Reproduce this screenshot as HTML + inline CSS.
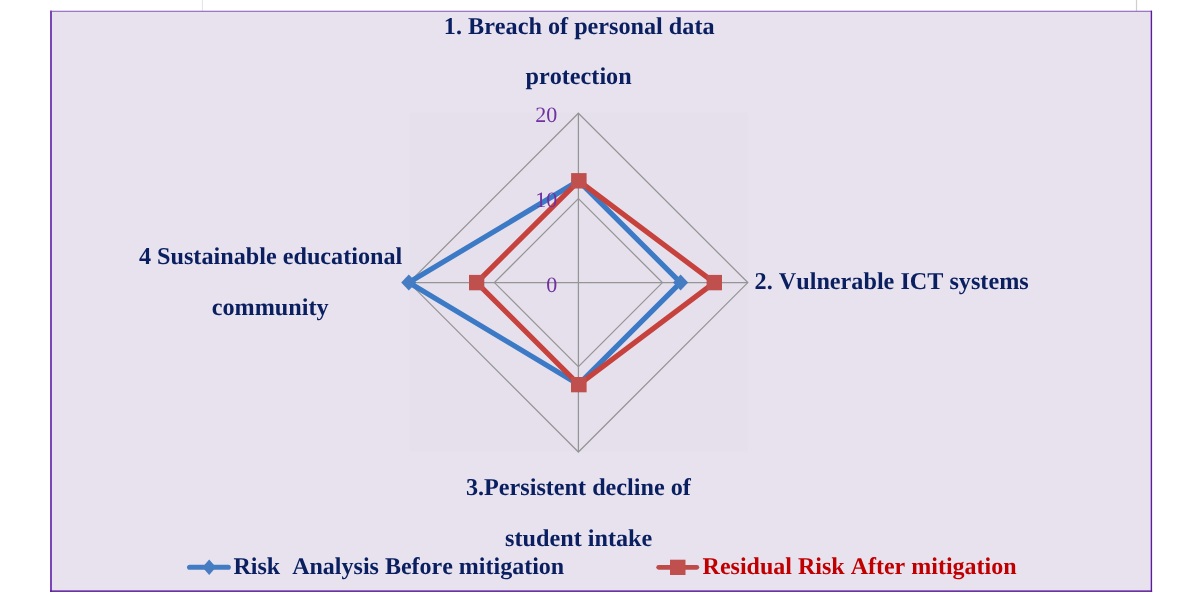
<!DOCTYPE html>
<html>
<head>
<meta charset="utf-8">
<title>Risk radar chart</title>
<style>
html,body{margin:0;padding:0;background:#fff;}
body{width:1200px;height:598px;overflow:hidden;position:relative;}
svg{position:absolute;left:0;top:0;display:block;}
text{text-rendering:geometricPrecision;white-space:pre;font-kerning:none;font-variant-ligatures:none;}
.cat{font-family:"Liberation Serif",serif;font-weight:bold;font-size:24.2px;fill:#0a1f60;}
.ax{font-family:"Liberation Serif",serif;font-size:22px;fill:#7030a0;}
.lg1{font-family:"Liberation Serif",serif;font-weight:bold;font-size:24px;fill:#0a1f60;}
.lg2{font-family:"Liberation Serif",serif;font-weight:bold;font-size:24px;fill:#c00000;}
</style>
</head>
<body>
<svg width="1200" height="598" viewBox="0 0 1200 598">
  <!-- page guide lines -->
  <rect x="201.9" y="0" width="1.1" height="11" fill="#e4e4e4"/>
  <rect x="1135.9" y="0" width="1.2" height="11" fill="#cfcfcf"/>
  <!-- panel -->
  <rect x="51" y="11.2" width="1100.5" height="580" fill="#e8e2ef"/>
  <rect x="50" y="10.7" width="1102" height="1.3" fill="#9b78c4"/>
  <rect x="50" y="10.7" width="2" height="581.2" fill="#7a45b5"/>
  <rect x="1150.7" y="10.7" width="1.4" height="581.2" fill="#5b1d9b"/>
  <rect x="50" y="590.4" width="1102.1" height="1.5" fill="#5b1d9b"/>
  <!-- plot area -->
  <rect x="409.5" y="112.5" width="338.5" height="339" fill="#e6e0ed"/>
  <!-- grid -->
  <g fill="none" stroke="#959595" stroke-width="1.25">
    <polygon points="578.4,113.2 747.8,282.6 578.4,452 409,282.6"/>
    <polygon points="578.4,198.6 662.4,282.6 578.4,366.6 494.4,282.6"/>
    <line x1="578.4" y1="113.2" x2="578.4" y2="452"/>
    <line x1="409" y1="282.6" x2="747.8" y2="282.6"/>
  </g>
  <!-- series blue -->
  <polygon points="578.6,180.8 680.5,282.6 578.6,384.4 408.8,282.6" fill="none" stroke="#3d7ac5" stroke-width="5.2" stroke-linejoin="round"/>
  <g fill="#467dc2">
    <path d="M578.6 172.8 l7.6 8 -7.6 8 -7.6 -8z"/>
    <path d="M680.6 274.6 l7.6 8 -7.6 8 -7.6 -8z"/>
    <path d="M578.6 376.4 l7.6 8 -7.6 8 -7.6 -8z"/>
    <path d="M408.8 274.6 l7.6 8 -7.6 8 -7.6 -8z"/>
  </g>
  <!-- series red -->
  <polygon points="578.8,180.8 714.3,282.6 578.8,384.6 476.7,282.6" fill="none" stroke="#c6433d" stroke-width="5.2" stroke-linejoin="round"/>
  <g fill="#c0504d">
    <rect x="571.1" y="173.1" width="15.5" height="15.4"/>
    <rect x="706.6" y="274.9" width="15.4" height="15.4"/>
    <rect x="571" y="377" width="15.6" height="15.3"/>
    <rect x="469" y="274.9" width="15.3" height="15.4"/>
  </g>
  <!-- axis labels -->
  <text class="ax" x="557.3" y="122.1" text-anchor="end">20</text>
  <text class="ax" x="557.3" y="206.8" text-anchor="end">10</text>
  <text class="ax" x="557.3" y="291.5" text-anchor="end">0</text>
  <!-- category labels -->
  <text class="cat" x="579.2" y="33.9" text-anchor="middle">1. Breach of personal data</text>
  <text class="cat" x="578.6" y="84" text-anchor="middle">protection</text>
  <text class="cat" x="754.6" y="289">2. Vulnerable ICT systems</text>
  <text class="cat" x="578.4" y="494.9" text-anchor="middle">3.Persistent decline of</text>
  <text class="cat" x="578.7" y="545.5" text-anchor="middle">student intake</text>
  <text class="cat" x="270.6" y="263.9" text-anchor="middle">4 Sustainable educational</text>
  <text class="cat" x="270.2" y="314.6" text-anchor="middle">community</text>
  <!-- legend -->
  <line x1="189.6" y1="567.3" x2="228.3" y2="567.3" stroke="#447cc3" stroke-width="5.1" stroke-linecap="round"/>
  <path d="M209.2 559.6 l6.8 7.7 -6.8 7.7 -6.8 -7.7z" fill="#467dc2"/>
  <text class="lg1" x="233.5" y="574.2">Risk  Analysis Before mitigation</text>
  <line x1="658.7" y1="567.3" x2="696.8" y2="567.3" stroke="#be4b48" stroke-width="4.8" stroke-linecap="round"/>
  <rect x="670" y="559.7" width="15.5" height="15.3" fill="#c0504d"/>
  <text class="lg2" x="702.6" y="574.2">Residual Risk After mitigation</text>
</svg>
</body>
</html>
